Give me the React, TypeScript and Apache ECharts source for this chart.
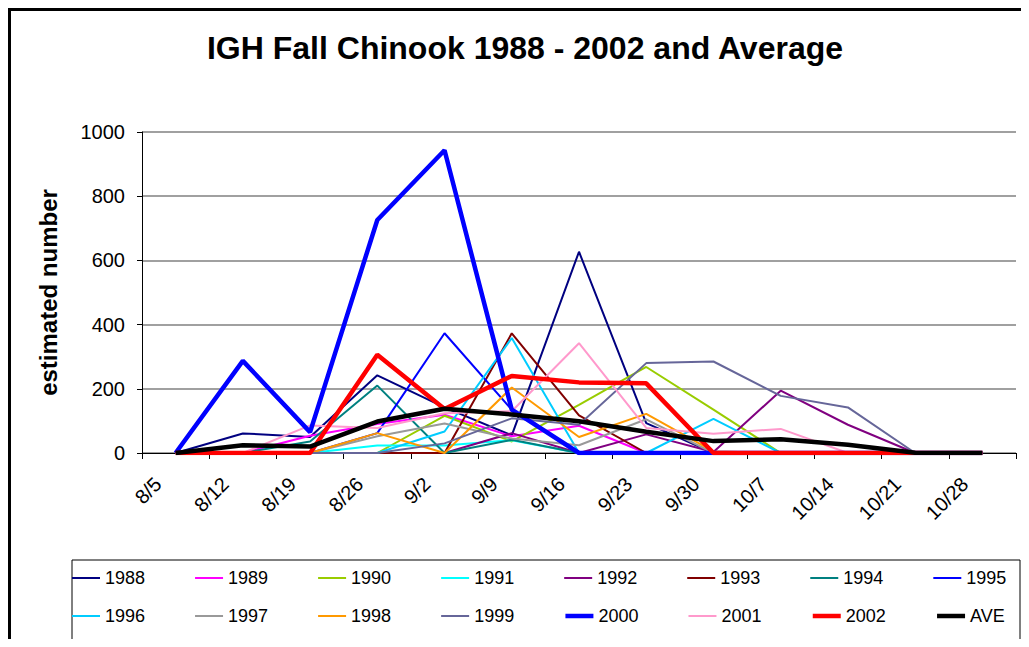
import React, { useEffect, useRef } from "react";
import * as echarts from "echarts";

const tickLabels = ["8/5", "8/12", "8/19", "8/26", "9/2", "9/9", "9/16", "9/23", "9/30", "10/7", "10/14", "10/21", "10/28"];

const y1988 = [0, 61, 50, 242, 142, 55, 627, 93, 0, 0, 0, 0, 0];
const y1989 = [0, 0, 54, 90, 119, 52, 85, 0, 0, 0, 0, 0, 0];
const y1990 = [0, 0, 0, 0, 116, 36, 150, 268, 135, 0, 0, 0, 0];
const y1991 = [0, 0, 0, 23, 23, 40, 0, 0, 0, 0, 0, 0, 0];
const y1992 = [0, 0, 0, 0, 0, 62, 0, 58, 3, 194, 88, 0, 0];
const y1993 = [0, 0, 0, 0, 0, 373, 117, 0, 0, 0, 0, 0, 0];
const y1994 = [0, 0, 36, 210, 0, 41, 0, 0, 0, 0, 0, 0, 0];
const y1995 = [0, 0, 0, 62, 373, 135, 0, 0, 0, 0, 0, 0, 0];
const y1996 = [0, 0, 0, 0, 67, 358, 0, 0, 106, 0, 0, 0, 0];
const y1997 = [0, 0, 0, 52, 92, 45, 24, 105, 0, 0, 0, 0, 0];
const y1998 = [0, 0, 0, 62, 0, 204, 50, 122, 5, 0, 0, 0, 0];
const y1999 = [0, 0, 0, 0, 30, 108, 88, 280, 285, 178, 142, 0, 0];
const y2000 = [0, 287, 65, 726, 943, 135, 0, 0, 0, 0, 0, 0, 0];
const y2001 = [0, 0, 86, 78, 124, 130, 342, 78, 60, 75, 0, 0, 0];
const y2002 = [0, 0, 0, 306, 137, 240, 220, 217, 0, 0, 0, 0, 0];
const yAve = [0, 24, 20, 98, 138, 120, 99, 66, 37, 43, 26, 1, 0];

const seriesNames = ["1988", "1989", "1990", "1991", "1992", "1993", "1994", "1995", "1996", "1997", "1998", "1999", "2000", "2001", "2002", "AVE"];
const seriesValues = [y1988, y1989, y1990, y1991, y1992, y1993, y1994, y1995, y1996, y1997, y1998, y1999, y2000, y2001, y2002, yAve];
const seriesColors = ["#000080", "#FF00FF", "#99CC00", "#00FFFF", "#800080", "#800000", "#008080", "#0000FF", "#00CCFF", "#999999", "#FF9900", "#666699", "#0000FF", "#FF99CC", "#FF0000", "#000000"];
const thickNames = ["2000", "2002", "AVE"];

const FONT = "'Liberation Sans', Arial, sans-serif";

export default function App() {
  const ref = useRef<HTMLDivElement>(null);
  useEffect(() => {
    if (!ref.current) return;
    const chart = echarts.init(ref.current, null, { renderer: "svg" });
    const widthOf = (name: string) => (thickNames.includes(name) ? 4.5 : 2);
    const legendItems = (names: string[]) =>
      names.map((name) => ({ name, lineStyle: { width: widthOf(name) } }));
    const legendCommon = {
      left: 63,
      width: 950,
      orient: "horizontal",
      itemGap: 49,
      itemWidth: 28,
      itemHeight: 14,
      padding: 0,
      selectedMode: false,
      itemStyle: { opacity: 0, borderWidth: 0 },
      textStyle: { fontSize: 18, lineHeight: 20, color: "#000", fontFamily: FONT },
    };
    chart.setOption({
      animation: false,
      backgroundColor: "#fff",
      textStyle: { fontFamily: FONT },
      title: {
        text: "IGH Fall Chinook 1988 - 2002 and Average",
        left: 512,
        textAlign: "center",
        top: 19,
        textStyle: { fontSize: 32, fontWeight: "bold", color: "#000", fontFamily: FONT },
      },
      graphic: [
        {
          type: "rect",
          shape: { x: 1.5, y: 1.5, width: 2000, height: 2000 },
          style: { fill: "none", stroke: "#000", lineWidth: 3 },
          silent: true,
        },
        {
          type: "rect",
          shape: { x: 64, y: 552, width: 948, height: 80 },
          style: { fill: "none", stroke: "#000", lineWidth: 1 },
          silent: true,
        },
      ],
      legend: [
        { ...legendCommon, top: 560, data: legendItems(seriesNames.slice(0, 8)) },
        { ...legendCommon, top: 598, data: legendItems(seriesNames.slice(8)) },
      ],
      grid: { left: 134, right: 5, top: 124, bottom: 186, containLabel: false },
      xAxis: {
        type: "category",
        data: tickLabels,
        boundaryGap: true,
        axisLine: { show: true, lineStyle: { color: "#000", width: 1 } },
        axisTick: { show: true, alignWithLabel: false, length: 6, lineStyle: { color: "#000" } },
        axisLabel: { rotate: 45, fontSize: 20, margin: 10, padding: [0, 25, 0, 0], interval: 0, color: "#000", fontFamily: FONT },
        splitLine: { show: false },
      },
      yAxis: {
        type: "value",
        min: 0,
        max: 1000,
        interval: 200,
        name: "estimated number",
        nameLocation: "middle",
        nameGap: 82,
        nameTextStyle: { fontSize: 24, fontWeight: "bold", color: "#000", fontFamily: FONT },
        axisLine: { show: true, lineStyle: { color: "#000", width: 1 } },
        axisTick: { show: true, length: 5, lineStyle: { color: "#000" } },
        axisLabel: { fontSize: 20, margin: 17, color: "#000", fontFamily: FONT, formatter: (v: number) => String(v) },
        splitLine: { show: true, lineStyle: { color: "#808080", width: 1.5 } },
      },
      series: seriesNames.map((name, i) => ({
        name,
        type: "line",
        data: seriesValues[i],
        symbol: "none",
        color: seriesColors[i],
        lineStyle: { color: seriesColors[i], width: widthOf(name) },
        z: thickNames.includes(name) ? 3 : 2,
      })),
    });
    return () => chart.dispose();
  }, []);
  return <div ref={ref} style={{ width: 1013, height: 631 }} />;
}
